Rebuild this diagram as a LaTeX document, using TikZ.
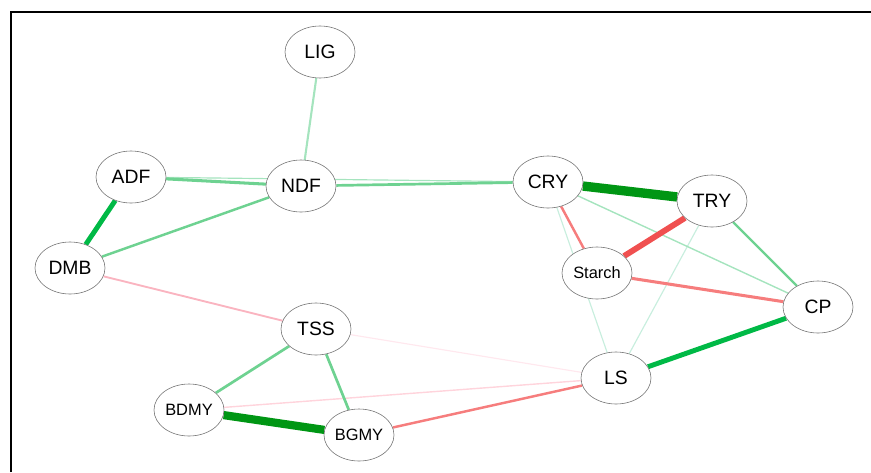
\documentclass[tikz,border=0pt]{standalone}
\usepackage{fontspec}
\setmainfont{Liberation Sans}
\usetikzlibrary{shapes.geometric,backgrounds}
\definecolor{posStrong}{RGB}{0,150,20}
\definecolor{posMid}{RGB}{0,185,70}
\definecolor{posLight}{RGB}{110,210,145}
\definecolor{posFaint}{RGB}{165,228,190}
\definecolor{posVFaint}{RGB}{200,238,222}
\definecolor{negStrong}{RGB}{240,80,80}
\definecolor{negMid}{RGB}{246,125,125}
\definecolor{negLight}{RGB}{250,180,192}
\definecolor{negFaint}{RGB}{255,212,220}
\definecolor{negVFaint}{RGB}{255,232,238}
\tikzset{
  var/.style={ellipse,draw=black!55,fill=white,line width=0.5pt,
    minimum width=2.1cm,minimum height=1.56cm,inner sep=0pt,
    font=\fontsize{16.5}{18}\selectfont},
  smallvar/.style={var,font=\fontsize{14}{16}\selectfont},
}
\begin{document}
\begin{tikzpicture}[x=0.03cm,y=-0.03cm]
  \useasboundingbox (0,0) rectangle (871,472);
  \draw[line width=1.3pt] (11,472) -- (11,12) -- (871,12);
  % variables
  \path (320,52) node[var](LIG){LIG}
        (131,177) node[var](ADF){ADF}
        (301,186) node[var](NDF){NDF}
        (548,182) node[var](CRY){CRY}
        (712,201) node[var](TRY){TRY}
        (70,268) node[var](DMB){DMB}
        (597,273) node[smallvar](Starch){Starch}
        (818,307) node[var](CP){CP}
        (316,329) node[var](TSS){TSS}
        (616,378) node[var](LS){LS}
        (189,410) node[smallvar](BDMY){BDMY}
        (359,435) node[smallvar](BGMY){BGMY};
  % correlations
  \begin{pgfonlayer}{background}
    \draw[posFaint,line width=1pt] (ADF) -- (CRY);
    \draw[posVFaint,line width=1pt] (CRY) -- (LS);
    \draw[posVFaint,line width=1pt] (TRY) -- (LS);
    \draw[posFaint,line width=1.2pt] (CRY) -- (CP);
    \draw[negVFaint,line width=1pt] (TSS) -- (LS);
    \draw[negFaint,line width=1.2pt] (BDMY) -- (LS);
    \draw[posFaint,line width=1.8pt] (LIG) -- (NDF);
    \draw[posLight,line width=2.6pt] (ADF) -- (NDF);
    \draw[posLight,line width=2.3pt] (NDF) -- (CRY);
    \draw[posLight,line width=2.1pt] (NDF) -- (DMB);
    \draw[posMid,line width=4.2pt] (ADF) -- (DMB);
    \draw[negLight,line width=1.6pt] (DMB) -- (TSS);
    \draw[posLight,line width=2.3pt] (TSS) -- (BDMY);
    \draw[posLight,line width=2.3pt] (TSS) -- (BGMY);
    \draw[posStrong,line width=7pt] (BDMY) -- (BGMY);
    \draw[negMid,line width=2.1pt] (BGMY) -- (LS);
    \draw[posStrong,line width=8pt] (CRY) -- (TRY);
    \draw[negMid,line width=2.1pt] (CRY) -- (Starch);
    \draw[negStrong,line width=5pt] (TRY) -- (Starch);
    \draw[posLight,line width=2.1pt] (TRY) -- (CP);
    \draw[negMid,line width=2.6pt] (Starch) -- (CP);
    \draw[posMid,line width=4.2pt] (LS) -- (CP);
  \end{pgfonlayer}
\end{tikzpicture}
\end{document}
